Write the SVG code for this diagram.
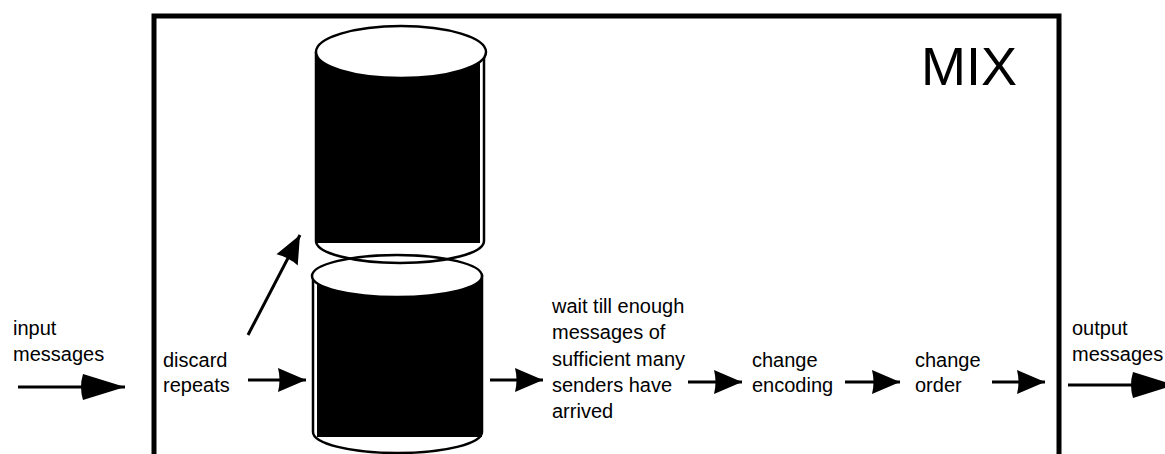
<svg xmlns="http://www.w3.org/2000/svg" width="1165" height="454" viewBox="0 0 1165 454">
<style>
.t{font-family:"Liberation Sans",Arial,sans-serif;font-size:20px;fill:#000}
.c{stroke:#000;stroke-width:2.5;fill:#fff}
.o{stroke:#000;stroke-width:2.5;fill:none}
.ln{stroke:#000;stroke-width:3;fill:none}
</style>
<defs>
<marker id="hs" markerUnits="userSpaceOnUse" markerWidth="30" markerHeight="26" refX="28" refY="12" orient="auto" overflow="visible">
<path d="M0,0 L28,12 L0,24 Q3,12 0,0 Z" fill="#000"/>
</marker>
<marker id="hb" markerUnits="userSpaceOnUse" markerWidth="44" markerHeight="28" refX="42" refY="13" orient="auto" overflow="visible">
<path d="M0,0 L42,13 L0,26 Q-4,13 0,0 Z" fill="#000"/>
</marker>
</defs>
<rect width="1165" height="454" fill="#fff"/>
<g id="mix">
<rect x="154" y="16" width="905" height="460" fill="none" stroke="#000" stroke-width="5"/>
<text x="921" y="85" style="font-family:'Liberation Sans',Arial,sans-serif;font-size:54px">MIX</text>
</g>
<g id="store-bottom">
<path class="c" d="M313,276 V432 A84.5,21 0 0 0 482,432 V276 Z"/>
<rect x="317" y="278" width="165" height="159" fill="#000"/>
<ellipse class="c" cx="397" cy="276" rx="85" ry="21"/>
</g>
<g id="store-top">
<path class="o" d="M316,52 V241 A84,22 0 0 0 484,241 V52"/>
<rect x="315" y="53" width="165" height="190" fill="#000"/>
<ellipse class="c" cx="401" cy="52" rx="85" ry="26"/>
</g>
<g id="labels">
<text class="t" x="13" y="335">input</text>
<text class="t" x="13" y="361">messages</text>
<text class="t" x="163" y="367">discard</text>
<text class="t" x="163" y="392">repeats</text>
<text class="t" x="552" y="313">wait till enough</text>
<text class="t" x="552" y="339">messages of</text>
<text class="t" x="552" y="366">sufficient many</text>
<text class="t" x="552" y="392">senders have</text>
<text class="t" x="552" y="418">arrived</text>
<text class="t" x="752" y="367">change</text>
<text class="t" x="752" y="392">encoding</text>
<text class="t" x="915" y="367">change</text>
<text class="t" x="915" y="392">order</text>
<text class="t" x="1072" y="335">output</text>
<text class="t" x="1072" y="361">messages</text>
</g>
<g id="connectors">
<path class="ln" d="M18,387 H125" marker-end="url(#hb)"/>
<path class="ln" d="M248,380 H306" marker-end="url(#hs)"/>
<path class="ln" d="M248,335 L300,235" marker-end="url(#hs)"/>
<path class="ln" d="M490,380 H543" marker-end="url(#hs)"/>
<path class="ln" d="M688,382 H742" marker-end="url(#hs)"/>
<path class="ln" d="M845,382 H900" marker-end="url(#hs)"/>
<path class="ln" d="M992,382 H1045" marker-end="url(#hs)"/>
<path class="ln" d="M1068,385 H1175" marker-end="url(#hb)"/>
</g>
</svg>
